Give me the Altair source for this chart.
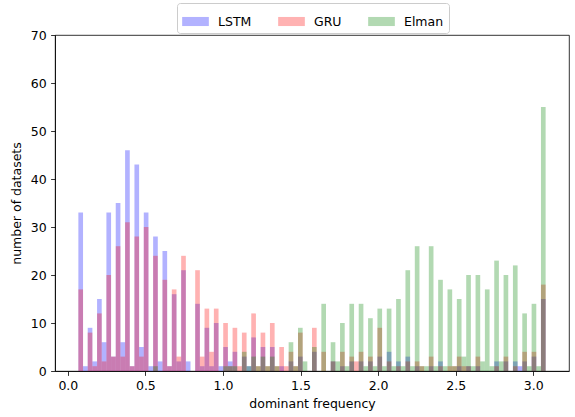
import altair as alt
import pandas as pd

SERIES = ["LSTM", "GRU", "Elman"]
COLORS = ["#0000ff", "#ff0000", "#008000"]

# histogram bins (dominant frequency range split into 100 bins)
BIN_LO, BIN_HI, N_BINS = 0.068, 3.080, 100

LSTM = [33, 1, 9, 2, 15, 6, 33, 3, 35, 6,
        46, 1, 43, 5, 33, 1, 28, 2, 25, 1,
        16, 2, 21, 2, 0, 14, 1, 9, 1, 10,
        1, 5, 2, 4, 0, 3, 1, 7, 0, 5,
        0, 5, 0, 1, 0, 2, 0, 3, 0, 0,
        4, 0, 0, 0, 2, 0, 1, 0, 2, 0,
        2, 0, 2, 0, 3, 0, 4, 0, 2, 0,
        3, 0, 1, 0, 0, 1, 0, 2, 0, 0,
        0, 1, 0, 1, 0, 1, 0, 0, 0, 2,
        0, 2, 0, 2, 1, 2, 0, 3, 0, 15]
GRU = [17, 0, 8, 1, 12, 2, 20, 3, 26, 3,
       31, 1, 28, 3, 30, 0, 24, 0, 19, 1,
       17, 3, 24, 0, 0, 21, 3, 13, 4, 13,
       0, 10, 1, 9, 1, 8, 0, 12, 1, 8,
       1, 10, 1, 5, 1, 4, 1, 8, 0, 0,
       9, 0, 4, 0, 2, 0, 4, 0, 3, 2,
       4, 0, 3, 0, 9, 0, 2, 0, 1, 0,
       2, 0, 2, 1, 0, 3, 0, 1, 0, 1,
       1, 3, 1, 1, 0, 3, 0, 0, 0, 1,
       0, 3, 0, 1, 0, 4, 0, 4, 0, 18]
ELMAN = [0, 0, 0, 0, 0, 0, 0, 0, 0, 0,
         0, 0, 0, 0, 0, 0, 1, 0, 0, 0,
         0, 0, 0, 0, 0, 0, 0, 0, 0, 0,
         0, 1, 1, 1, 0, 4, 1, 3, 1, 3,
         1, 3, 1, 0, 0, 6, 1, 9, 2, 0,
         5, 0, 14, 0, 6, 2, 10, 1, 14, 0,
         14, 1, 11, 1, 13, 1, 13, 1, 15, 1,
         21, 1, 26, 1, 1, 26, 1, 19, 1, 17,
         1, 15, 3, 20, 1, 20, 2, 17, 1, 23,
         2, 20, 0, 22, 0, 12, 1, 14, 1, 55]

X_TICKS = [0.0, 0.5, 1.0, 1.5, 2.0, 2.5, 3.0]
Y_TICKS = [0, 10, 20, 30, 40, 50, 60, 70]

bw = (BIN_HI - BIN_LO) / N_BINS
rows = []
for k, (name, counts) in enumerate(zip(SERIES, [LSTM, GRU, ELMAN])):
    for i, c in enumerate(counts):
        if c > 0:
            rows.append({"series": name, "x0": BIN_LO + i * bw,
                         "x1": BIN_LO + (i + 1) * bw, "count": c, "base": 0, "k": k})
df = pd.DataFrame(rows)

FONT = "DejaVu Sans"
xmargin = (BIN_HI - BIN_LO) * 0.05

chart = alt.Chart(df).mark_bar(opacity=0.3, cornerRadius=0).encode(
    x=alt.X("x0:Q",
            scale=alt.Scale(domain=[BIN_LO - xmargin, BIN_HI + xmargin], nice=False, zero=False),
            axis=alt.Axis(values=X_TICKS, format=".1f", title="dominant frequency",
                          titlePadding=5)),
    x2="x1:Q",
    y=alt.Y("count:Q", stack=None, scale=alt.Scale(domain=[0, 70], nice=False, padding=0),
            axis=alt.Axis(values=Y_TICKS, title="number of datasets", titlePadding=7)),
    y2="base:Q",
    color=alt.Color("series:N", scale=alt.Scale(domain=SERIES, range=COLORS),
                    legend=alt.Legend(title=None, orient="none", direction="horizontal",
                                      legendX=122, legendY=-32,
                                      symbolType="M-1,-0.34H1V0.34H-1Z", symbolSize=713,
                                      symbolOpacity=0.3, symbolStrokeWidth=0,
                                      labelFont=FONT, labelFontSize=12.5, labelColor="black",
                                      labelOffset=9, columnPadding=26,
                                      strokeColor="#cccccc", fillColor="white",
                                      cornerRadius=3, padding=5)),
    order=alt.Order("k:Q"),
).properties(
    width=514, height=336,
    autosize=alt.AutoSizeParams(type="none"),
    padding={"left": 55, "top": 35, "right": 6, "bottom": 46},
).configure_view(
    stroke="black", strokeWidth=0.8
).configure_axis(
    grid=False, domainColor="black", domainWidth=0.8, tickColor="black", tickWidth=0.8,
    tickSize=4.4, labelPadding=4.4, labelFont=FONT, labelFontSize=12.5, labelColor="black",
    titleFont=FONT, titleFontSize=12.5, titleFontWeight="normal", titleColor="black",
)

chart.save("out.html", embed_options={"renderer": "svg", "actions": False})
